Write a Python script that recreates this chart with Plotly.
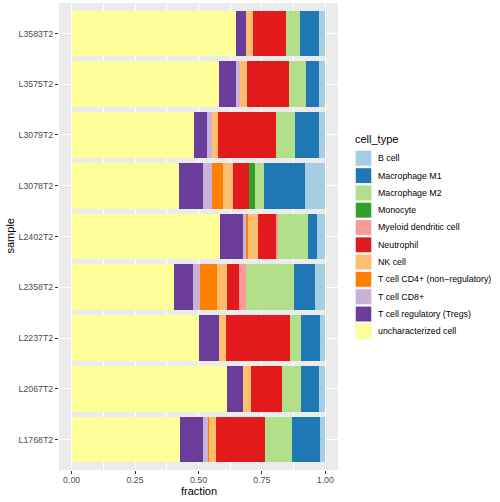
import plotly.graph_objects as go

samples = ["L1768T2", "L2067T2", "L2237T2", "L2358T2", "L2402T2",
           "L3078T2", "L3079T2", "L3575T2", "L3583T2"]

# cell types in stacking order (left to right)
stack_types = ["uncharacterized cell", "T cell regulatory (Tregs)", "T cell CD8+",
               "T cell CD4+ (non−regulatory)", "NK cell", "Neutrophil",
               "Myeloid dendritic cell", "Monocyte", "Macrophage M2",
               "Macrophage M1", "B cell"]

colors = {
    "B cell": "#A6CEE3",
    "Macrophage M1": "#1F78B4",
    "Macrophage M2": "#B2DF8A",
    "Monocyte": "#33A02C",
    "Myeloid dendritic cell": "#FB9A99",
    "Neutrophil": "#E31A1C",
    "NK cell": "#FDBF6F",
    "T cell CD4+ (non−regulatory)": "#FF7F00",
    "T cell CD8+": "#CAB2D6",
    "T cell regulatory (Tregs)": "#6A3D9A",
    "uncharacterized cell": "#FFFF99",
}

# fractions per sample, in order of `samples`
uncharacterized = [0.428, 0.613, 0.503, 0.404, 0.585, 0.424, 0.483, 0.582, 0.649]
tregs           = [0.090, 0.063, 0.079, 0.076, 0.091, 0.094, 0.051, 0.067, 0.038]
cd8             = [0.020, 0.000, 0.000, 0.027, 0.012, 0.036, 0.020, 0.016, 0.000]
cd4             = [0.004, 0.000, 0.000, 0.067, 0.008, 0.043, 0.000, 0.000, 0.000]
nk              = [0.028, 0.032, 0.028, 0.039, 0.040, 0.040, 0.024, 0.027, 0.027]
neutrophil      = [0.194, 0.123, 0.249, 0.047, 0.072, 0.062, 0.226, 0.163, 0.129]
mdc             = [0.000, 0.000, 0.000, 0.028, 0.004, 0.000, 0.000, 0.000, 0.000]
monocyte        = [0.000, 0.000, 0.000, 0.000, 0.000, 0.025, 0.000, 0.000, 0.000]
m2              = [0.106, 0.074, 0.046, 0.190, 0.121, 0.035, 0.078, 0.070, 0.058]
m1              = [0.110, 0.071, 0.075, 0.083, 0.035, 0.162, 0.094, 0.051, 0.075]
bcell           = [0.020, 0.024, 0.020, 0.039, 0.032, 0.079, 0.024, 0.024, 0.024]

series = [uncharacterized, tregs, cd8, cd4, nk, neutrophil, mdc, monocyte, m2, m1, bcell]

legend_order = ["B cell", "Macrophage M1", "Macrophage M2", "Monocyte",
                "Myeloid dendritic cell", "Neutrophil", "NK cell",
                "T cell CD4+ (non−regulatory)", "T cell CD8+",
                "T cell regulatory (Tregs)", "uncharacterized cell"]

x_ticks = [0.0, 0.25, 0.5, 0.75, 1.0]
x_ticklabels = ["0.00", "0.25", "0.50", "0.75", "1.00"]

FONT = "Liberation Sans, Arial, sans-serif"

fig = go.Figure()
for name, vals in zip(stack_types, series):
    fig.add_trace(go.Bar(
        y=samples, x=vals, name=name, orientation="h",
        marker=dict(color=colors[name], line=dict(width=0)),
        showlegend=False,
    ))

W, H = 500, 502
L, R, T, B = 59, 162, 3, 32
pw, ph = W - L - R, H - T - B


def px_x(px):
    return (px - L) / pw


def px_y(py):
    return (H - B - py) / ph


shapes = []
annotations = []
# manual legend
key_left, key_right = 355, 372
y0 = 158.3
step = 17.3
for i, name in enumerate(legend_order):
    cy = y0 + i * step
    shapes.append(dict(type="rect", xref="paper", yref="paper",
                       x0=px_x(key_left), x1=px_x(key_right),
                       y0=px_y(cy + 8.2), y1=px_y(cy - 8.2),
                       fillcolor="#F2F2F2", line=dict(width=0), layer="above"))
    shapes.append(dict(type="rect", xref="paper", yref="paper",
                       x0=px_x(key_left + 0.8), x1=px_x(key_right - 0.8),
                       y0=px_y(cy + 7.4), y1=px_y(cy - 7.4),
                       fillcolor=colors[name], line=dict(width=0), layer="above"))
    annotations.append(dict(text=name, xref="paper", yref="paper",
                            x=px_x(376), y=px_y(cy), xanchor="left", yanchor="middle",
                            showarrow=False, font=dict(size=8.8, color="#000000", family=FONT)))
annotations.append(dict(text="cell_type", xref="paper", yref="paper",
                        x=px_x(353), y=px_y(139), xanchor="left", yanchor="middle",
                        showarrow=False, font=dict(size=11, color="#000000", family=FONT)))
# axis titles placed as annotations to match ggplot positions
annotations.append(dict(text="fraction", xref="paper", yref="paper",
                        x=0.5, y=px_y(491.5), xanchor="center", yanchor="middle",
                        showarrow=False, font=dict(size=11, color="#000000", family=FONT)))
annotations.append(dict(text="sample", xref="paper", yref="paper",
                        x=px_x(9), y=0.5, xanchor="center", yanchor="middle", textangle=-90,
                        showarrow=False, font=dict(size=11, color="#000000", family=FONT)))

fig.update_layout(
    width=W, height=H,
    margin=dict(l=L, r=R, t=T, b=B, pad=0),
    barmode="stack", bargap=0.1,
    paper_bgcolor="white", plot_bgcolor="#EBEBEB",
    font=dict(family=FONT),
    shapes=shapes, annotations=annotations,
    showlegend=False,
    xaxis=dict(
        range=[-0.05, 1.05], tickvals=x_ticks, ticktext=x_ticklabels,
        showgrid=True, gridcolor="white", gridwidth=1.1,
        minor=dict(dtick=0.125, tick0=0.125, showgrid=True, gridcolor="white", gridwidth=0.5),
        ticks="outside", ticklen=3, tickwidth=1, tickcolor="#333333",
        tickfont=dict(size=8.8, color="#4D4D4D", family=FONT),
        ticklabelstandoff=-2,
        automargin=False, zeroline=False, showline=False,
    ),
    yaxis=dict(
        categoryorder="array", categoryarray=samples,
        range=[-0.6, 8.6],
        showgrid=True, gridcolor="white", gridwidth=1.1,
        ticks="outside", ticklen=3, tickwidth=1, tickcolor="#333333",
        tickfont=dict(size=8.8, color="#4D4D4D", family=FONT),
        automargin=False, zeroline=False, showline=False,
    ),
)

fig.write_html("out.html", config={"displayModeBar": False},
               post_script="document.body.style.margin='0';document.body.style.padding='0';")
